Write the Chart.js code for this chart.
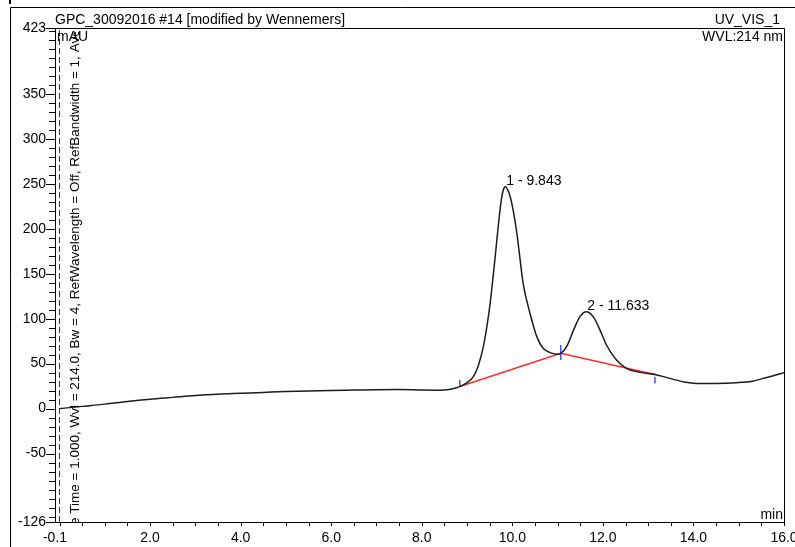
<!DOCTYPE html>
<html>
<head>
<meta charset="utf-8">
<script src="https://cdn.jsdelivr.net/npm/chart.js@4.4.1/dist/chart.umd.min.js"></script>
<style>
  html, body { margin: 0; padding: 0; background: #fff; }
  #wrap { width: 795px; height: 547px; }
</style>
</head>
<body>
<div id="wrap"><canvas id="gpcChart" width="795" height="547"></canvas></div>
<script>
'use strict';
// UV trace, minutes vs mAU
const retentionTimes = [
  0.0, 0.5, 1.0, 1.5, 2.0, 2.5, 3.0, 3.5, 4.0, 4.5, 5.0, 5.5, 6.0, 6.5, 7.0, 7.5, 7.8,
  8.1, 8.4, 8.6, 8.75, 8.84, 9.0, 9.14, 9.25, 9.36, 9.45, 9.51, 9.62, 9.70, 9.76, 9.80,
  9.843, 9.89, 9.95, 10.02, 10.1, 10.24, 10.39, 10.54, 10.68, 10.85, 11.0, 11.07, 11.2,
  11.35, 11.49, 11.633, 11.79, 11.94, 12.08, 12.3, 12.52, 12.82, 13.15, 13.48, 13.8,
  14.07, 14.5, 14.95, 15.3, 15.54, 15.8, 16.0
];
const signalValues = [
  0, 2.5, 5, 8, 10.5, 12.5, 14.5, 16, 17, 18, 19, 19.7, 20.2, 20.6, 21, 21.2, 21,
  20.6, 20.4, 21.2, 23, 24.5, 29, 35.5, 48, 69, 95, 117, 168, 208, 233, 243,
  246.5, 244, 236, 220, 195, 139, 106, 80, 67, 62, 60.5, 61.4, 69,
  87, 102, 107.7, 102, 87, 70.7, 54, 44.8, 40.3, 38, 33.6, 29.5,
  28, 28, 28.8, 30.5, 33.6, 37, 40
];

// integration baseline and delimiter marks
const baselineTimes = [8.84, 11.07, 13.15];
const baselineValues = [24.5, 61.4, 38];
const markerLow = [24.5, 54, 28];
const markerHigh = [32, 70.7, 35.5];

// peak annotations
const peakNumbers = [1, 2];
const peakTimes = [9.843, 11.633];
const peakHeights = [246.5, 107.7];

// axis ticks
const xTickLabels = [-0.1, 2, 4, 6, 8, 10, 12, 14, 16];
const yTickLabels = [-126, -50, 0, 50, 100, 150, 200, 250, 300, 350, 423];
const xMinorStep = 0.5;
const yMinorStep = 10;

const FONT = "'Liberation Sans', Arial, sans-serif";

const tracePoints = retentionTimes.map((t, i) => ({ x: t, y: signalValues[i] }));
const baselinePoints = baselineTimes.map((t, i) => ({ x: t, y: baselineValues[i] }));
const markerPoints = [];
baselineTimes.forEach((t, i) => {
  markerPoints.push({ x: t, y: markerLow[i] }, { x: t, y: markerHigh[i] }, { x: t, y: null });
});

const framePlugin = {
  id: 'frame',
  afterDraw(chart) {
    const ctx = chart.ctx;
    const area = chart.chartArea;
    const xs = chart.scales.x;
    const ys = chart.scales.y;
    ctx.save();
    ctx.strokeStyle = '#000';
    ctx.lineWidth = 1;

    // outer frame
    ctx.beginPath();
    ctx.moveTo(10.5, 547);
    ctx.lineTo(10.5, 7.5);
    ctx.lineTo(795, 7.5);
    ctx.stroke();
    ctx.fillStyle = '#000';
    ctx.fillRect(9, 0, 2, 4);

    // plot box top and right
    ctx.beginPath();
    ctx.moveTo(area.left, area.top + 0.5);
    ctx.lineTo(area.right + 0.5, area.top + 0.5);
    ctx.lineTo(area.right + 0.5, area.bottom);
    ctx.stroke();

    // y tick marks
    ctx.beginPath();
    for (let v = -120; v <= 420; v += yMinorStep) {
      const py = Math.round(ys.getPixelForValue(v)) + 0.5;
      ctx.moveTo(area.left - 6, py);
      ctx.lineTo(area.left, py);
    }
    yTickLabels.forEach(v => {
      const py = Math.round(ys.getPixelForValue(v)) + 0.5;
      ctx.moveTo(area.left - 9, py);
      ctx.lineTo(area.left, py);
    });
    // x tick marks
    for (let v = 0; v <= 16; v += xMinorStep) {
      const px = Math.round(xs.getPixelForValue(v)) + 0.5;
      ctx.moveTo(px, area.bottom);
      ctx.lineTo(px, area.bottom + 4);
    }
    ctx.stroke();

    // header texts
    ctx.font = '14px ' + FONT;
    ctx.textBaseline = 'alphabetic';
    ctx.textAlign = 'left';
    ctx.fillText('GPC_30092016 #14 [modified by Wennemers]', 55, 24);
    ctx.textAlign = 'right';
    ctx.fillText('UV_VIS_1', 780, 24);
    ctx.fillText('WVL:214 nm', 783, 41);
    ctx.textAlign = 'left';
    ctx.fillText('mAU', 57, 41);
    ctx.textAlign = 'right';
    ctx.fillText('min', 783, 519);

    // peak labels
    ctx.textAlign = 'left';
    peakTimes.forEach((t, i) => {
      const px = xs.getPixelForValue(t);
      const py = ys.getPixelForValue(peakHeights[i]);
      ctx.fillText(peakNumbers[i] + ' - ' + t.toFixed(3), px + 1, py - 2);
    });

    // detector settings, rotated and clipped to the plot box
    ctx.save();
    ctx.beginPath();
    ctx.rect(area.left, area.top + 4, area.right - area.left, area.bottom - area.top - 4);
    ctx.clip();
    ctx.font = '13.5px ' + FONT;
    const prefix = 'Ris';
    const info = 'Rise Time = 1.000, Wvl = 214.0, Bw = 4, RefWavelength = Off, RefBandwidth = 1, Average = On';
    const startY = 525 + ctx.measureText(prefix).width;
    ctx.translate(79, startY);
    ctx.rotate(-Math.PI / 2);
    ctx.textAlign = 'left';
    ctx.fillText(info, 0, 0);
    ctx.restore();

    ctx.restore();
  }
};

new Chart(document.getElementById('gpcChart'), {
  type: 'line',
  data: {
    datasets: [
      {
        data: [{ x: 0, y: -126 }, { x: 0, y: 423 }],
        borderColor: '#333',
        borderWidth: 1,
        borderDash: [6, 3],
        pointRadius: 0
      },
      {
        data: tracePoints,
        borderColor: '#1c1c1c',
        borderWidth: 1.5,
        pointRadius: 0,
        cubicInterpolationMode: 'monotone'
      },
      {
        data: baselinePoints,
        borderColor: '#ff2a2a',
        borderWidth: 1.5,
        pointRadius: 0
      },
      {
        data: markerPoints,
        borderColor: '#5050ff',
        borderWidth: 1.5,
        pointRadius: 0,
        spanGaps: false
      }
    ]
  },
  options: {
    responsive: false,
    animation: false,
    parsing: false,
    layout: { padding: { top: 28, right: 11, left: 0, bottom: 0 } },
    plugins: { legend: { display: false }, tooltip: { enabled: false } },
    scales: {
      x: {
        type: 'linear',
        min: -0.1,
        max: 16,
        grid: { display: false, drawTicks: false },
        border: { display: true, color: '#000', width: 1 },
        afterBuildTicks: s => { s.ticks = xTickLabels.map(v => ({ value: v })); },
        afterFit: s => { s.height = 25; s.paddingLeft = 0; s.paddingRight = 0; },
        ticks: {
          color: '#000',
          font: { family: FONT, size: 14 },
          padding: 8,
          maxRotation: 0,
          autoSkip: false,
          callback: v => v.toFixed(1)
        }
      },
      y: {
        type: 'linear',
        min: -126,
        max: 423,
        grid: { display: false, drawTicks: false },
        border: { display: true, color: '#000', width: 1 },
        afterBuildTicks: s => { s.ticks = yTickLabels.map(v => ({ value: v })); },
        afterFit: s => { s.width = 55; s.paddingTop = 0; s.paddingBottom = 0; },
        ticks: {
          color: '#000',
          font: { family: FONT, size: 14 },
          padding: 9,
          autoSkip: false,
          callback: v => String(v)
        }
      }
    }
  },
  plugins: [framePlugin]
});
</script>
</body>
</html>
